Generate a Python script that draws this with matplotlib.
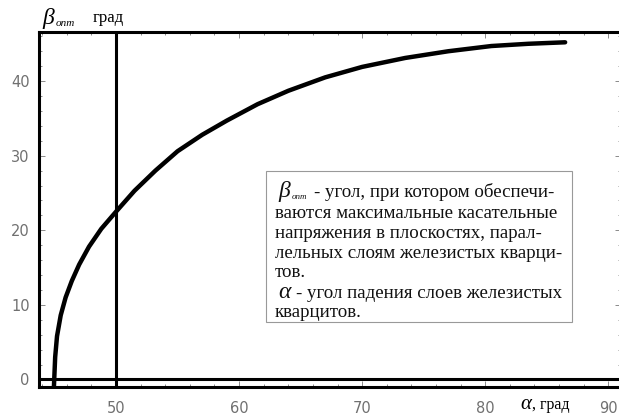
import matplotlib.pyplot as plt
from matplotlib.patches import Rectangle
from matplotlib.ticker import MultipleLocator

# dip angle of the ferruginous quartzite layers, deg
alpha = [44.95, 45.05, 45.2, 45.5, 45.9, 46.4, 47.0, 47.8, 48.8, 50.0, 51.5,
         53.2, 55.0, 57.0, 59.0, 61.5, 64.0, 67.0, 70.0, 73.5, 77.0, 80.5,
         83.5, 86.5]
# optimal angle of maximum shear stress, deg
beta_opt = [-0.9, 3.0, 5.8, 8.6, 11.0, 13.2, 15.4, 17.8, 20.2, 22.5, 25.3,
            28.0, 30.6, 32.8, 34.7, 36.9, 38.7, 40.5, 41.9, 43.1, 44.0, 44.7,
            45.0, 45.2]

x_ticks = [50, 60, 70, 80, 90]
y_ticks = [0, 10, 20, 30, 40]

W, H = 619, 418


def fpos(px, py):
    # pixel position (from top-left) -> figure fraction
    return px / W, 1 - py / H


fig = plt.figure(figsize=(W / 100, H / 100), dpi=100)
ax = fig.add_axes([39.3 / W, 1 - 386.7 / H, (620.5 - 39.3) / W, (386.7 - 32.3) / H])

ax.plot(alpha, beta_opt, color='black', lw=3.2, solid_capstyle='round', zorder=3)
ax.axvline(50, color='black', lw=2.2, zorder=2)
ax.axhline(0, color='black', lw=2.2, zorder=2)

ax.set_xlim(43.76, 91.0)
ax.set_ylim(-0.97, 46.54)
ax.set_xticks(x_ticks)
ax.set_yticks(y_ticks)
ax.xaxis.set_minor_locator(MultipleLocator(2))
ax.yaxis.set_minor_locator(MultipleLocator(2))
ax.tick_params(which='both', direction='in', top=True, right=True,
               color='#777777', width=0.6)
ax.tick_params(which='major', length=4, labelsize=10.5, labelcolor='#707070')
ax.tick_params(which='minor', length=2.5)
ax.tick_params(axis='x', pad=10)
ax.tick_params(axis='y', pad=7)
for side in ['left', 'top', 'bottom']:
    ax.spines[side].set_linewidth(2.2)
ax.spines['right'].set_visible(False)

serif = 'Liberation Serif'

# axis captions
fig.text(*fpos(42, 24), 'β', family=serif, style='italic', fontsize=17, va='baseline')
fig.text(*fpos(56, 26), 'опт', family=serif, style='italic', fontsize=8, va='baseline')
fig.text(*fpos(93, 22), 'град', family=serif, fontsize=12, va='baseline')
fig.text(*fpos(520, 409), 'α', family=serif, style='italic', fontsize=15, va='baseline')
fig.text(*fpos(532, 409), ', град', family=serif, fontsize=11.5, va='baseline')

# explanation box
x0, y0 = fpos(266, 322)
x1, y1 = fpos(572, 171)
fig.patches.append(Rectangle((x0, y0), x1 - x0, y1 - y0, transform=fig.transFigure,
                             facecolor='white', edgecolor='#999999', lw=0.8, zorder=1))

fs = 13.6
col = '#111111'
fig.text(*fpos(278, 197), 'β', family=serif, style='italic', fontsize=17, va='baseline', color=col)
fig.text(*fpos(292, 199), 'опт', family=serif, style='italic', fontsize=6.5, va='baseline', color=col)
fig.text(*fpos(314, 197), '- угол, при котором обеспечи-', family=serif, fontsize=fs,
         va='baseline', color=col)
lines = ['ваются максимальные касательные',
         'напряжения в плоскостях, парал-',
         'лельных слоям железистых кварци-',
         'тов.']
for i, s in enumerate(lines):
    fig.text(*fpos(275, 218 + 19.8 * i), s, family=serif, fontsize=fs, va='baseline', color=col)
fig.text(*fpos(278, 298), 'α', family=serif, style='italic', fontsize=17, va='baseline', color=col)
fig.text(*fpos(296, 298), '- угол падения слоев железистых', family=serif, fontsize=fs,
         va='baseline', color=col)
fig.text(*fpos(275, 317), 'кварцитов.', family=serif, fontsize=fs, va='baseline', color=col)

fig.savefig('out.png', dpi=100)
